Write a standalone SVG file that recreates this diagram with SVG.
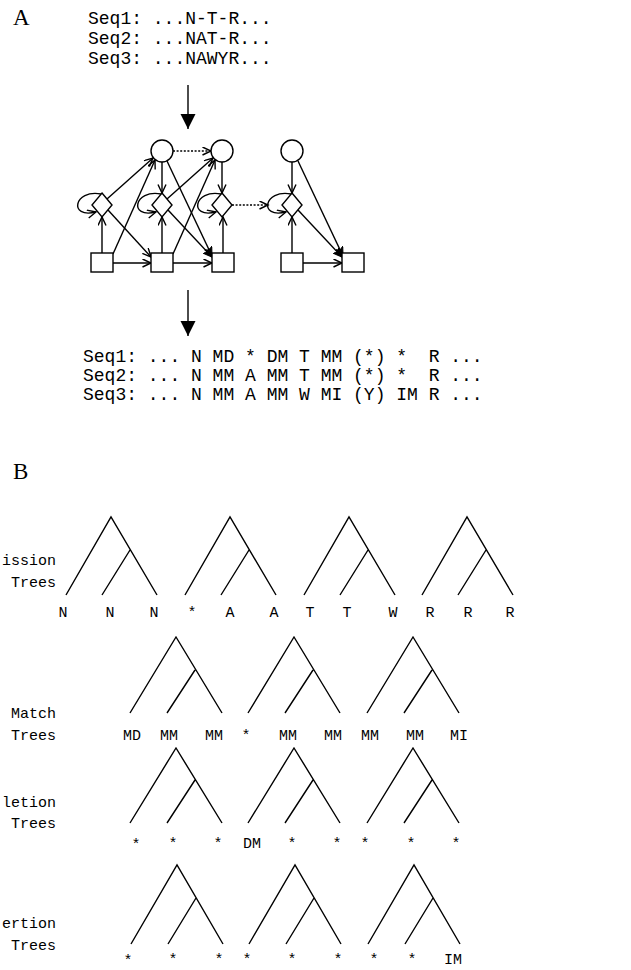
<svg xmlns="http://www.w3.org/2000/svg" width="631" height="970" viewBox="0 0 631 970">
<style>
text{font-family:"Liberation Mono",monospace;fill:#000;white-space:pre}
.big{font-family:"Liberation Serif",serif;font-size:23px}
.seq{font-size:18px}
.lab{font-size:15px}
.lbl{font-size:15px;text-anchor:end}
.mid{text-anchor:middle}
.e{fill:none;stroke:#000;stroke-width:1.4}
.dot{stroke-dasharray:2 1.6}
.shape{fill:#fff;stroke:#000;stroke-width:1.4}
.tree{fill:none;stroke:#000;stroke-width:1.4;stroke-linejoin:miter}
</style>
<defs>
<marker id="open" markerWidth="11" markerHeight="10" refX="9" refY="4.5" orient="auto" markerUnits="userSpaceOnUse">
<path d="M0.5,0.5 L9,4.5 L0.5,8.5" fill="none" stroke="#000" stroke-width="1.4"/>
</marker>
<marker id="fill" markerWidth="11" markerHeight="10" refX="9" refY="4.5" orient="auto" markerUnits="userSpaceOnUse">
<path d="M0,0.5 L9,4.5 L0,8.5 L2.5,4.5 Z" fill="#000" stroke="#000" stroke-width="1"/>
</marker>
<marker id="tri" markerWidth="16" markerHeight="16" refX="15" refY="7.5" orient="auto" markerUnits="userSpaceOnUse">
<path d="M0,0 L15,7.5 L0,15 Z" fill="#000"/>
</marker>
</defs>

<text class="big" x="13" y="25">A</text>
<g id="top-seqs">
<text class="seq" x="88" y="24">Seq1: ...N-T-R...</text>
<text class="seq" x="88" y="44">Seq2: ...NAT-R...</text>
<text class="seq" x="88" y="64">Seq3: ...NAWYR...</text>
</g>

<g id="connectors">
<line class="e" x1="188" y1="85" x2="188" y2="129" marker-end="url(#tri)"/>
<line class="e" x1="188" y1="290" x2="188" y2="336" marker-end="url(#tri)"/>
<!-- column 0 -->
<line class="e" x1="102" y1="253" x2="102" y2="217" marker-end="url(#open)"/>
<line class="e" x1="113" y1="263" x2="151" y2="263" marker-end="url(#open)"/>
<line class="e" x1="113" y1="254" x2="155" y2="160" marker-end="url(#open)"/>
<line class="e" x1="107" y1="199" x2="153" y2="158" marker-end="url(#open)"/>
<line class="e" x1="108" y1="210" x2="151" y2="257" marker-end="url(#open)"/>
<path class="e" d="M101,194 C74,189 68,219 96,212" marker-end="url(#open)"/>
<!-- column 1 -->
<line class="e" x1="162" y1="162" x2="162" y2="193" marker-end="url(#open)"/>
<line class="e dot" x1="173" y1="151" x2="211" y2="151" marker-end="url(#open)"/>
<line class="e" x1="167" y1="161" x2="212" y2="256" marker-end="url(#fill)"/>
<line class="e" x1="162" y1="253" x2="162" y2="217" marker-end="url(#open)"/>
<line class="e" x1="173" y1="263" x2="212" y2="263" marker-end="url(#open)"/>
<line class="e" x1="173" y1="254" x2="215" y2="160" marker-end="url(#open)"/>
<line class="e" x1="167" y1="199" x2="213" y2="158" marker-end="url(#open)"/>
<line class="e" x1="168" y1="210" x2="212" y2="257" marker-end="url(#fill)"/>
<path class="e" d="M161,194 C134,189 128,219 156,212" marker-end="url(#open)"/>
<!-- column 2 -->
<line class="e" x1="222" y1="162" x2="222" y2="193" marker-end="url(#open)"/>
<line class="e" x1="223" y1="253" x2="223" y2="217" marker-end="url(#open)"/>
<line class="e dot" x1="232" y1="205" x2="268" y2="205" marker-end="url(#open)"/>
<path class="e" d="M221,194 C194,189 188,219 216,212" marker-end="url(#open)"/>
<!-- column 3 -->
<line class="e" x1="292" y1="162" x2="292" y2="193" marker-end="url(#open)"/>
<line class="e" x1="298" y1="161" x2="343" y2="256" marker-end="url(#fill)"/>
<line class="e" x1="292" y1="253" x2="292" y2="217" marker-end="url(#open)"/>
<line class="e" x1="303" y1="263" x2="342" y2="263" marker-end="url(#open)"/>
<line class="e" x1="298" y1="210" x2="342" y2="257" marker-end="url(#fill)"/>
<path class="e" d="M291,194 C264,189 258,219 286,212" marker-end="url(#open)"/>
</g>

<g id="c1"><circle class="shape" cx="162" cy="151" r="11"/></g>
<g id="c2"><circle class="shape" cx="222" cy="151" r="11"/></g>
<g id="c3"><circle class="shape" cx="292" cy="151" r="11"/></g>
<g id="d0"><polygon class="shape" points="102,193 112,205 102,217 92,205" fill-opacity="0"/></g>
<g id="d1"><polygon class="shape" points="162,193 172,205 162,217 152,205" fill-opacity="0"/></g>
<g id="d2"><polygon class="shape" points="222,193 232,205 222,217 212,205" fill-opacity="0"/></g>
<g id="d3"><polygon class="shape" points="292,193 302,205 292,217 282,205" fill-opacity="0"/></g>
<g id="s0"><rect class="shape" x="91" y="253" width="22" height="19"/></g>
<g id="s1"><rect class="shape" x="151" y="253" width="22" height="19"/></g>
<g id="s2"><rect class="shape" x="212" y="253" width="22" height="19"/></g>
<g id="s3"><rect class="shape" x="281" y="253" width="22" height="19"/></g>
<g id="s4"><rect class="shape" x="342" y="253" width="22" height="19"/></g>

<g id="bottom-seqs">
<text class="seq" x="83" y="362" xml:space="preserve">Seq1: ... N MD * DM T MM (*) *  R ...</text>
<text class="seq" x="83" y="381" xml:space="preserve">Seq2: ... N MM A MM T MM (*) *  R ...</text>
<text class="seq" x="83" y="400" xml:space="preserve">Seq3: ... N MM A MM W MI (Y) IM R ...</text>
</g>

<text class="big" x="13" y="479">B</text>

<g id="emission">
<text class="lbl" x="56" y="565">ission</text>
<text class="lbl" x="56" y="587">Trees</text>
<path class="tree" d="M66,595 L111,517 L157,595 M130,550 L102,595"/>
<path class="tree" d="M185,595 L230,517 L276,595 M249,550 L221,595"/>
<path class="tree" d="M304,595 L349,517 L395,595 M368,550 L340,595"/>
<path class="tree" d="M422,595 L467,517 L513,595 M486,550 L458,595"/>
<text class="lab mid" x="63" y="617">N</text>
<text class="lab mid" x="110" y="617">N</text>
<text class="lab mid" x="154" y="617">N</text>
<text class="lab mid" x="192" y="617">*</text>
<text class="lab mid" x="230" y="617">A</text>
<text class="lab mid" x="274" y="617">A</text>
<text class="lab mid" x="310" y="617">T</text>
<text class="lab mid" x="347" y="617">T</text>
<text class="lab mid" x="393" y="617">W</text>
<text class="lab mid" x="430" y="617">R</text>
<text class="lab mid" x="468" y="617">R</text>
<text class="lab mid" x="510" y="617">R</text>
</g>

<g id="match">
<text class="lbl" x="56" y="718">Match</text>
<text class="lbl" x="56" y="740">Trees</text>
<path class="tree" d="M130,713 L176,637 L222,713 M195,670 L167,713"/>
<path class="tree" d="M248,713 L294,637 L340,713 M313,670 L285,713"/>
<path class="tree" d="M367,713 L413,637 L459,713 M432,670 L404,713"/>
<text class="lab mid" x="132" y="740">MD</text>
<text class="lab mid" x="169" y="740">MM</text>
<text class="lab mid" x="214" y="740">MM</text>
<text class="lab mid" x="246" y="740">*</text>
<text class="lab mid" x="288" y="740">MM</text>
<text class="lab mid" x="333" y="740">MM</text>
<text class="lab mid" x="370" y="740">MM</text>
<text class="lab mid" x="415" y="740">MM</text>
<text class="lab mid" x="459" y="740">MI</text>
</g>

<g id="deletion">
<text class="lbl" x="56" y="807">letion</text>
<text class="lbl" x="56" y="828">Trees</text>
<path class="tree" d="M130,823 L176,748 L222,823 M195,780 L167,823"/>
<path class="tree" d="M248,823 L294,748 L340,823 M313,780 L285,823"/>
<path class="tree" d="M367,823 L413,748 L459,823 M432,780 L404,823"/>
<text class="lab mid" x="136" y="849">*</text>
<text class="lab mid" x="173" y="848">*</text>
<text class="lab mid" x="218" y="848">*</text>
<text class="lab mid" x="252" y="848">DM</text>
<text class="lab mid" x="292" y="848">*</text>
<text class="lab mid" x="337" y="848">*</text>
<text class="lab mid" x="365" y="848">*</text>
<text class="lab mid" x="411" y="848">*</text>
<text class="lab mid" x="456" y="848">*</text>
</g>

<g id="insertion">
<text class="lbl" x="56" y="928">ertion</text>
<text class="lbl" x="56" y="950">Trees</text>
<path class="tree" d="M131,944 L177,865 L223,944 M196,898 L168,944"/>
<path class="tree" d="M249,944 L295,865 L341,944 M314,898 L286,944"/>
<path class="tree" d="M368,944 L414,865 L460,944 M433,898 L405,944"/>
<text class="lab mid" x="128" y="965">*</text>
<text class="lab mid" x="173" y="964">*</text>
<text class="lab mid" x="219" y="964">*</text>
<text class="lab mid" x="247" y="964">*</text>
<text class="lab mid" x="292" y="964">*</text>
<text class="lab mid" x="338" y="964">*</text>
<text class="lab mid" x="374" y="964">*</text>
<text class="lab mid" x="412" y="964">*</text>
<text class="lab mid" x="453" y="964">IM</text>
</g>
</svg>
